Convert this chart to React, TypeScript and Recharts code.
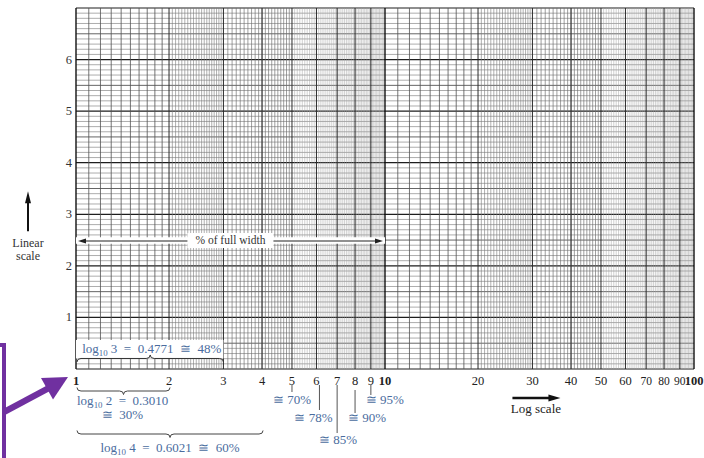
import React from 'react';
import { ComposedChart, XAxis, YAxis, ReferenceLine, ReferenceArea, ReferenceDot } from 'recharts';

// ---------- data ----------
const X_DOMAIN: [number, number] = [1, 100];
const Y_DOMAIN: [number, number] = [0, 7];
const X_TICKS = [1, 2, 3, 4, 5, 6, 7, 8, 9, 10, 20, 30, 40, 50, 60, 70, 80, 90, 100];
const BOLD_X = [1, 10, 100];
const SMALL_X = [70, 80, 90];
const Y_TICKS = [1, 2, 3, 4, 5, 6];
const DECADES = [1, 10];
const MAJORS = [1, 2, 3, 4, 5, 6, 7, 8, 9, 10];
const SUBDIVISIONS = [
  { from: 1, to: 2, step: 0.1, kind: 'm1' },
  { from: 2, to: 3, step: 0.05, kind: 'm2' },
  { from: 3, to: 5, step: 0.1, kind: 'm3' },
  { from: 5, to: 10, step: 0.1, kind: 'm4' },
];
const Y_MINOR_STEP = 0.1;
const PERCENT_NOTES = [
  { x: 5, text: '\u2245 70%' },
  { x: 6, text: '\u2245 78%' },
  { x: 7, text: '\u2245 85%' },
  { x: 8, text: '\u2245 90%' },
  { x: 9, text: '\u2245 95%' },
];
const LOG_NOTES = [
  { from: 1, to: 2, base: '2', value: '0.3010', pct: '30%' },
  { from: 1, to: 4, base: '4', value: '0.6021', pct: '60%' },
  { from: 1, to: 3, base: '3', value: '0.4771', pct: '48%' },
];
const BOX_Y = [0.204, 0.562];
const WIDTH_ARROW = { from: 1, to: 10, y: 2.482, band: [2.43, 2.555], label: '% of full width', at: 3 };

// ---------- styles / layout ----------
const SERIF = "'Liberation Serif', 'DejaVu Serif', 'Times New Roman', serif";
const BLUE = '#4a6c9e';
const PURPLE = '#7030A0';
const NOTE_LAYOUT: Record<number, { lx: number; l1: number; l2: number; tx: number; ty: number }> = {
  5: { lx: 0, l1: 16, l2: 23, tx: 0, ty: 35 },
  6: { lx: 3, l1: 16, l2: 41, tx: -3, ty: 52.5 },
  7: { lx: 0, l1: 16, l2: 64, tx: 1, ty: 75 },
  8: { lx: 0, l1: 21, l2: 44, tx: 12, ty: 52.5 },
  9: { lx: 0, l1: 16, l2: 26, tx: 14, ty: 35 },
};
const V_STYLE: Record<string, { stroke: string; w: number }> = {
  decade: { stroke: '#111', w: 1.4 },
  major: { stroke: '#2a2a2a', w: 1 },
  m1: { stroke: '#505050', w: 0.8 },
  m2: { stroke: '#7a7a7a', w: 0.6 },
  m3: { stroke: '#6a6a6a', w: 0.65 },
  m4: { stroke: '#a2a2a2', w: 0.5 },
};

const r3 = (v: number) => Math.round(v * 10000) / 10000;

// vertical grid values
const vLines: { v: number; kind: string }[] = [];
DECADES.forEach((d) => {
  SUBDIVISIONS.forEach((s) => {
    const n = Math.round((s.to - s.from) / s.step);
    for (let i = 1; i < n; i++) vLines.push({ v: r3((s.from + i * s.step) * d), kind: s.kind });
  });
});
const majorLines: { v: number; kind: string }[] = [];
DECADES.forEach((d) => MAJORS.forEach((m) => {
  const v = r3(m * d);
  if (!majorLines.find((q) => q.v === v)) majorLines.push({ v, kind: m === 1 || m === 10 ? 'decade' : 'major' });
}));

const hLines: { v: number; kind: string }[] = [];
for (let i = 0; i <= Math.round((Y_DOMAIN[1] - Y_DOMAIN[0]) / Y_MINOR_STEP); i++) {
  const v = r3(Y_DOMAIN[0] + i * Y_MINOR_STEP);
  const kind = i % 10 === 0 ? 'int' : i % 5 === 0 ? 'half' : 'minor';
  hLines.push({ v, kind });
}
const H_STYLE: Record<string, { stroke: string; w: number }> = {
  int: { stroke: '#1e1e1e', w: 1.2 },
  half: { stroke: '#555', w: 0.9 },
  minor: { stroke: '#8a8a8a', w: 0.7 },
};

function bracePath(x1: number, x2: number, y: number, dir: number, h: number) {
  const m = (x1 + x2) / 2;
  const r = 4;
  return `M${x1},${y - dir * h} Q${x1},${y} ${x1 + r},${y} L${m - r},${y} Q${m},${y} ${m},${y + dir * h} Q${m},${y} ${m + r},${y} L${x2 - r},${y} Q${x2},${y} ${x2},${y - dir * h}`;
}

const LogLabel = ({ x, y, base, rest, size = 13, anchor = 'middle', sub = 3 }: any) => (
  <text x={x} y={y} textAnchor={anchor} fontFamily={SERIF} fontSize={size} fill={BLUE} style={{ whiteSpace: 'pre' }}>
    <tspan>log</tspan>
    <tspan dy={sub} fontSize={size * 0.68}>10</tspan>
    <tspan dy={-sub}>{` ${base}  =  ${rest}`}</tspan>
  </text>
);

const XTick = (props: any) => {
  const { x, y, payload } = props;
  const v = payload.value;
  const bold = BOLD_X.includes(v);
  const small = SMALL_X.includes(v);
  return (
    <text x={x} y={y + 8} textAnchor="middle" fontFamily={SERIF} fontSize={small ? 11.5 : 12.5} fontWeight={bold ? 700 : 400} fill="#222">
      {v}
    </text>
  );
};

const YTick = (props: any) => {
  const { x, y, payload } = props;
  return (
    <text x={x + 4} y={y + 4} textAnchor="end" fontFamily={SERIF} fontSize={12.5} fill="#333">
      {payload.value}
    </text>
  );
};

const dot = (key: string, x: number, y: number, render: (cx: number, cy: number) => React.ReactNode) => (
  <ReferenceDot key={key} x={x} y={y} r={0} ifOverflow="visible" zIndex={700}
    shape={(p: any) => <g>{render(p.cx, p.cy)}</g>} />
);

export default function App() {
  return (
    <div style={{ position: 'absolute', left: 0, top: 0, width: 704, height: 458, background: '#fff' }}>
      <ComposedChart width={704} height={458} margin={{ top: 8, right: 10, bottom: 0, left: 0 }}>
        <XAxis type="number" dataKey="x" scale="log" domain={X_DOMAIN} allowDataOverflow ticks={X_TICKS} interval={0}
          axisLine={false} tickLine={false} height={89} tick={<XTick />} />
        <YAxis type="number" domain={Y_DOMAIN} allowDataOverflow ticks={Y_TICKS} interval={0}
          axisLine={false} tickLine={false} width={76} tick={<YTick />} />

        {hLines.map((l) => (
          <ReferenceLine key={'h' + l.v} y={l.v} stroke={H_STYLE[l.kind].stroke} strokeWidth={H_STYLE[l.kind].w} zIndex={100} ifOverflow="visible" />
        ))}
        {vLines.map((l) => (
          <ReferenceLine key={'v' + l.v} x={l.v} stroke={V_STYLE[l.kind].stroke} strokeWidth={V_STYLE[l.kind].w} zIndex={110} ifOverflow="visible" />
        ))}
        {majorLines.map((l) => (
          <ReferenceLine key={'M' + l.v} x={l.v} stroke={V_STYLE[l.kind].stroke} strokeWidth={V_STYLE[l.kind].w} zIndex={120} ifOverflow="visible" />
        ))}

        {/* white box for log10 3 */}
        <ReferenceArea x1={1} x2={3} y1={BOX_Y[0]} y2={BOX_Y[1]} fill="#fff" fillOpacity={1} stroke="none" zIndex={450} ifOverflow="visible" />
        {/* white band for % of full width */}
        <ReferenceArea x1={WIDTH_ARROW.from} x2={WIDTH_ARROW.to} y1={WIDTH_ARROW.band[0]} y2={WIDTH_ARROW.band[1]} fill="#fff" fillOpacity={1} stroke="none" zIndex={450} ifOverflow="visible" />

        {/* % of full width arrow */}
        <ReferenceLine segment={[{ x: WIDTH_ARROW.from, y: WIDTH_ARROW.y }, { x: WIDTH_ARROW.to, y: WIDTH_ARROW.y }]} ifOverflow="visible" zIndex={500}
          shape={(p: any) => {
            const a = p.x1 + 2, b = p.x2 - 2, y = p.y1;
            return (
              <g>
                <line x1={a + 6} y1={y} x2={b - 6} y2={y} stroke="#222" strokeWidth={1.2} />
                <polygon points={`${a},${y} ${a + 8},${y - 2.6} ${a + 8},${y + 2.6}`} fill="#222" />
                <polygon points={`${b},${y} ${b - 8},${y - 2.6} ${b - 8},${y + 2.6}`} fill="#222" />
              </g>
            );
          }} />
        {dot('wlabel', WIDTH_ARROW.at, WIDTH_ARROW.y, (cx, cy) => (
          <g>
            <rect x={cx - 36} y={cy - 8} width={86} height={15} fill="#fff" />
            <text x={cx + 7} y={cy + 3.5} textAnchor="middle" fontFamily={SERIF} fontSize={11.5} fill="#333">{WIDTH_ARROW.label}</text>
          </g>
        ))}

        {/* log notes with braces */}
        {LOG_NOTES.map((n, i) => (
          <ReferenceLine key={'brace' + i} segment={[{ x: n.from, y: i === 2 ? BOX_Y[0] : 0 }, { x: n.to, y: i === 2 ? BOX_Y[0] : 0 }]} ifOverflow="visible" zIndex={600}
            shape={(p: any) => {
              const x1 = p.x1 + 1, x2 = p.x2 + 1;
              const m = (x1 + x2) / 2;
              if (i === 0) {
                const y = p.y1 + 22;
                return (
                  <g>
                    <path d={bracePath(x1, x2, y, 1, 3.5)} fill="none" stroke="#444" strokeWidth={1} />
                    <LogLabel x={x1} y={p.y1 + 36} base={n.base} rest={n.value} anchor="start" />
                    <text x={m - 1} y={p.y1 + 50} textAnchor="middle" fontFamily={SERIF} fontSize={13} fill={BLUE} style={{ whiteSpace: 'pre' }}>{`\u2245  ${n.pct}`}</text>
                  </g>
                );
              }
              if (i === 1) {
                const y = p.y1 + 65;
                return (
                  <g>
                    <path d={bracePath(x1, x2, y, 1, 3.5)} fill="none" stroke="#444" strokeWidth={1} />
                    <LogLabel x={m} y={p.y1 + 83} base={n.base} rest={`${n.value}  \u2245  ${n.pct}`} sub={2.5} />
                  </g>
                );
              }
              const y = p.y1;
              return (
                <g>
                  <path d={bracePath(x1, x2 - 1, y, -1, 3.5)} fill="none" stroke="#333" strokeWidth={1} />
                  <LogLabel x={m + 1} y={y - 5.5} base={n.base} rest={`${n.value}  \u2245  ${n.pct}`} />
                </g>
              );
            }} />
        ))}

        {/* percent notes */}
        {PERCENT_NOTES.map((n) => {
          const L = NOTE_LAYOUT[n.x];
          return dot('pn' + n.x, n.x, 0, (cx, cy) => (
            <g>
              <line x1={cx + L.lx} y1={cy + L.l1} x2={cx + L.lx} y2={cy + L.l2} stroke="#555" strokeWidth={1} />
              <text x={cx + L.tx} y={cy + L.ty} textAnchor="middle" fontFamily={SERIF} fontSize={13} fill={BLUE}>{n.text}</text>
            </g>
          ));
        })}

        {/* Linear scale */}
        {dot('linear', 1, 3, (cx, cy) => (
          <g>
            <line x1={cx - 48} y1={cy + 17} x2={cx - 48} y2={cy - 12} stroke="#111" strokeWidth={2} />
            <polygon points={`${cx - 48},${cy - 23} ${cx - 51},${cy - 11} ${cx - 45},${cy - 11}`} fill="#111" />
            <text x={cx - 48} y={cy + 32.5} textAnchor="middle" fontFamily={SERIF} fontSize={12} fill="#333">Linear</text>
            <text x={cx - 48} y={cy + 45.5} textAnchor="middle" fontFamily={SERIF} fontSize={12} fill="#333">scale</text>
          </g>
        ))}

        {/* Log scale */}
        {dot('logscale', 30, 0, (cx, cy) => (
          <g>
            <line x1={cx - 20} y1={cy + 29} x2={cx + 18} y2={cy + 29} stroke="#111" strokeWidth={2.5} />
            <polygon points={`${cx + 28},${cy + 29} ${cx + 16},${cy + 25.5} ${cx + 16},${cy + 32.5}`} fill="#111" />
            <text x={cx + 3.5} y={cy + 44} textAnchor="middle" fontFamily={SERIF} fontSize={13} fill="#222">Log scale</text>
          </g>
        ))}

        {/* purple pointer */}
        {dot('purple', 1, 0, (cx, cy) => (
          <g>
            <rect x={cx - 76} y={cy - 26} width={6} height={4} fill={PURPLE} />
            <rect x={cx - 74} y={cy - 26} width={4} height={115} fill={PURPLE} />
            <line x1={cx - 72} y1={cy + 43} x2={cx - 28} y2={cy + 19.5} stroke={PURPLE} strokeWidth={6.5} />
            <polygon points={`${cx - 8},${cy + 8} ${cx - 35},${cy + 9} ${cx - 23},${cy + 30.5}`} fill={PURPLE} />
          </g>
        ))}
      </ComposedChart>
    </div>
  );
}
